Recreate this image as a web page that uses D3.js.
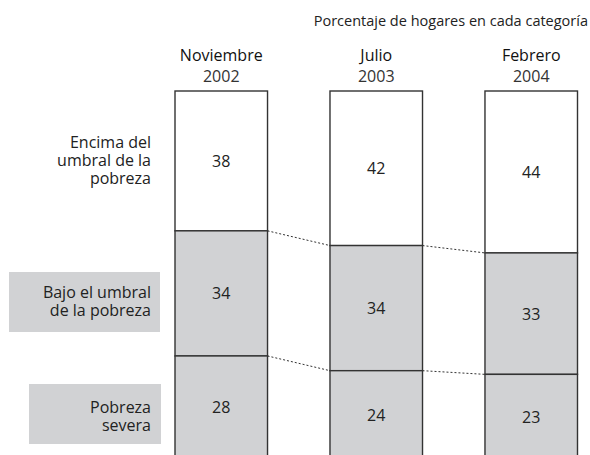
<!DOCTYPE html>
<html>
<head>
<meta charset="utf-8">
<script src="https://cdn.jsdelivr.net/npm/d3@7"></script>
<style>
  body { margin: 0; background: #fff; }
  svg { display: block; font-family: "Open Sans", sans-serif; }
</style>
</head>
<body>
<div id="wrapper"></div>
<script>
// data
const months = ["Noviembre", "Julio", "Febrero"]
const years = ["2002", "2003", "2004"]
const encima = [38, 42, 44]
const bajo = [34, 34, 33]
const severa = [28, 24, 23]
const categories = ["encima", "bajo", "severa"]
const catLabels = [["Encima del", "umbral de la", "pobreza"], ["Bajo el umbral", "de la pobreza"], ["Pobreza", "severa"]]
const title = "Porcentaje de hogares en cada categoría"

const rows = months.map((m, i) => ({month: m, year: years[i], encima: encima[i], bajo: bajo[i], severa: severa[i]}))

let dimensions = {width: 590, height: 455}
const gray = "#d1d2d4"
const ink = "#222"

var svg = d3.select("#wrapper").append("svg")
  .attr("width", dimensions.width)
  .attr("height", dimensions.height)

//Scales
var xScale = d3.scaleBand()
  .domain(months)
  .range([175, 577.5])
  .paddingInner(0.403)
  .paddingOuter(0)
var yScale = d3.scaleLinear()
  .domain([0, 100])
  .range([91, 459])

var stacked = d3.stack().keys(categories)(rows)
const bw = xScale.bandwidth()

// title
svg.append("text")
  .attr("x", 588).attr("y", 26)
  .attr("text-anchor", "end")
  .attr("font-size", 14.5)
  .attr("fill", ink)
  .text(title)

// column headers
var heads = svg.selectAll("g.head").data(rows).enter().append("g")
heads.append("text")
  .attr("x", d => xScale(d.month) + bw / 2)
  .attr("y", 61)
  .attr("text-anchor", "middle")
  .attr("font-size", 16)
  .attr("fill", "#111")
  .text(d => d.month)
heads.append("text")
  .attr("x", d => xScale(d.month) + bw / 2)
  .attr("y", 82)
  .attr("text-anchor", "middle")
  .attr("font-size", 16)
  .attr("fill", "#333")
  .text(d => d.year)

// dotted connectors between segment boundaries
for (let s = 0; s < stacked.length - 1; s++) {
  const layer = stacked[s]
  for (let i = 0; i < rows.length - 1; i++) {
    svg.append("line")
      .attr("x1", xScale(rows[i].month) + bw)
      .attr("y1", yScale(layer[i][1]))
      .attr("x2", xScale(rows[i + 1].month))
      .attr("y2", yScale(layer[i + 1][1]))
      .attr("stroke", "#333")
      .attr("stroke-width", 1)
      .attr("stroke-dasharray", "2,2")
  }
}

// stacked segments
stacked.forEach((layer, s) => {
  svg.append("g").selectAll("rect")
    .data(layer)
    .enter().append("rect")
      .attr("x", d => xScale(d.data.month))
      .attr("y", d => yScale(d[0]))
      .attr("width", bw)
      .attr("height", d => yScale(d[1]) - yScale(d[0]))
      .attr("fill", s == 0 ? "#fff" : gray)
      .attr("stroke", "#333")
      .attr("stroke-width", 1.4)
  svg.append("g").selectAll("text")
    .data(layer)
    .enter().append("text")
      .attr("x", d => xScale(d.data.month) + bw / 2)
      .attr("y", d => (yScale(d[0]) + yScale(d[1])) / 2 + 6)
      .attr("text-anchor", "middle")
      .attr("font-size", 16)
      .attr("fill", ink)
      .text(d => d[1] - d[0])
})

// category labels on the left
const labelBoxes = [null, {x: 9, y: 272, w: 151, h: 60}, {x: 29, y: 384, w: 132, h: 60}]
const labelBase = [148, 298, 413]
catLabels.forEach((lines, s) => {
  const box = labelBoxes[s]
  if (box) {
    svg.append("rect")
      .attr("x", box.x).attr("y", box.y)
      .attr("width", box.w).attr("height", box.h)
      .attr("fill", gray)
  }
  lines.forEach((ln, j) => {
    svg.append("text")
      .attr("text-anchor", "end")
      .attr("font-size", 16)
      .attr("fill", ink)
      .attr("x", 151)
      .attr("y", labelBase[s] + j * 17.8)
      .text(ln)
  })
})
</script>
</body>
</html>
